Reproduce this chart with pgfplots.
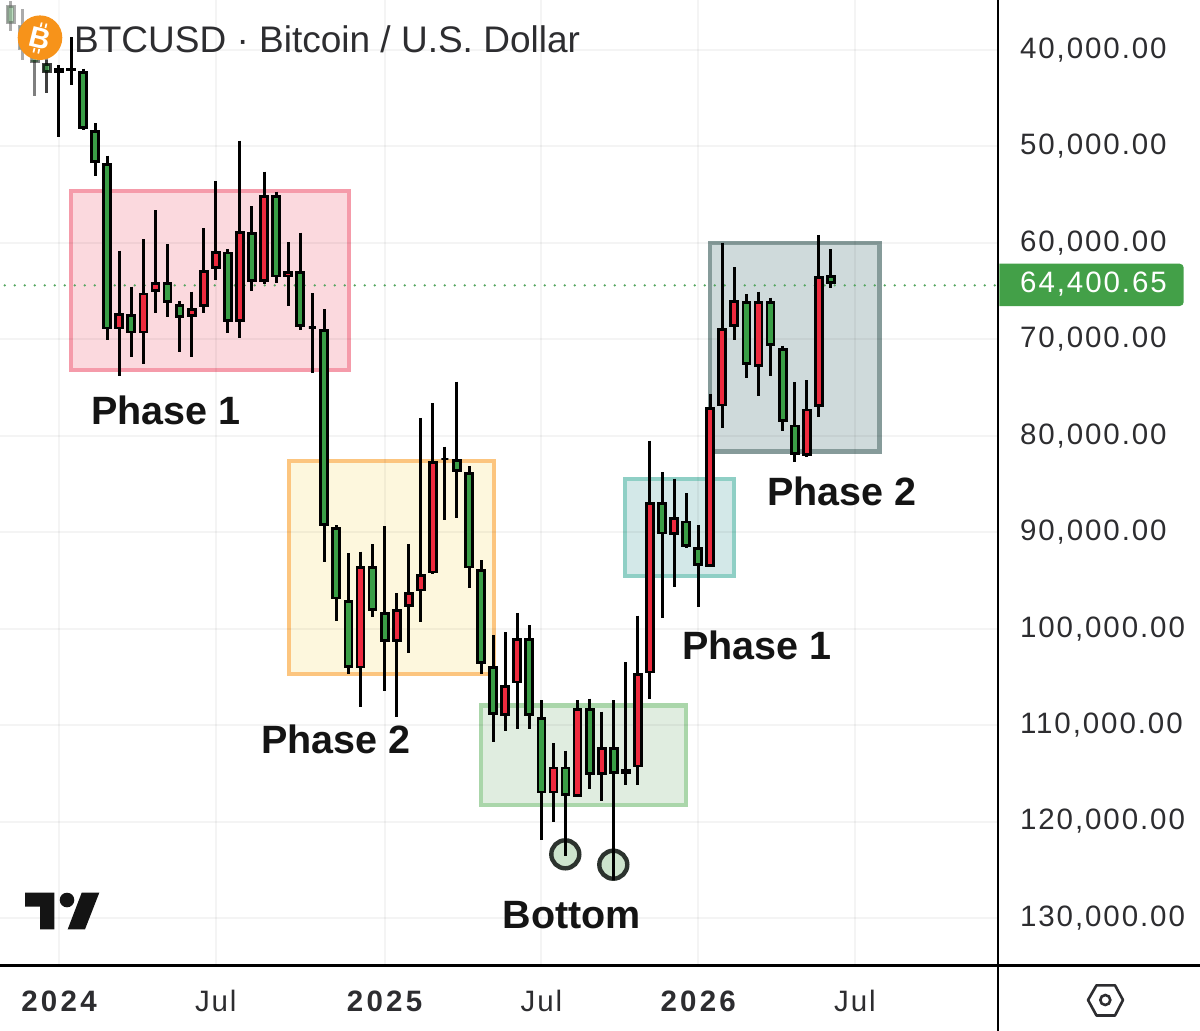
\documentclass[border=0pt]{standalone}
\usepackage{fontspec}
\usepackage{pgfplots}
\pgfplotsset{compat=1.18}
\setmainfont{Liberation Sans}
\newfontfamily\axf[LetterSpace=6.5]{Liberation Sans}
\newfontfamily\axfb[LetterSpace=11]{Liberation Sans}
\definecolor{cg}{RGB}{58,158,70}
\definecolor{cr}{RGB}{238,42,62}
\definecolor{lastg}{RGB}{67,160,72}
\definecolor{axtxt}{RGB}{45,45,48}
% k, wick end (lower price), body (lower price), body (higher price), wick end (higher price), colour
\newcommand\candle[7][1]{%
  \addplot[forget plot,opacity=#1,line width=3pt,black] coordinates {(#2,#3)(#2,#6)};
  \pgfmathsetmacro\xa{#2-0.29}\pgfmathsetmacro\xb{#2+0.29}%
  \edef\ya{\the\numexpr#4+145\relax}\edef\yb{\the\numexpr#5-145\relax}%
  \addplot[forget plot,opacity=#1,fill=#7,draw=black,line width=2.8pt,line join=miter]
    coordinates {(\xa,\ya)(\xb,\ya)(\xb,\yb)(\xa,\yb)} --cycle;
}
\begin{document}
\begin{tikzpicture}[x=1pt,y=-1pt]
\useasboundingbox (0,0) rectangle (1200,1031);
% phase boxes and bottom markers, beneath the candles
\draw[line width=4pt,draw={rgb,255:red,245;green,155;blue,170},fill={rgb,255:red,251;green,217;blue,222}] (71.3,191) rectangle (348.7,370);
\draw[line width=4pt,draw={rgb,255:red,252;green,197;blue,127},fill={rgb,255:red,253;green,247;blue,221}] (288.7,461) rectangle (493.7,674);
\draw[line width=4.5pt,draw={rgb,255:red,170;green,214;blue,170},fill={rgb,255:red,224;green,237;blue,224}] (481,705.5) rectangle (686,805);
\draw[line width=4pt,draw={rgb,255:red,143;green,207;blue,197},fill={rgb,255:red,211;green,232;blue,232}] (625.3,479) rectangle (734,576.3);
\draw[line width=4.5pt,draw={rgb,255:red,134;green,155;blue,154},fill={rgb,255:red,207;green,218;blue,219}] (710.2,243.2) rectangle (879.5,451.5);
\draw[line width=4.4pt,draw={rgb,255:red,44;green,51;blue,46},fill={rgb,255:red,205;green,228;blue,205}] (565.3,854.3) circle (14);
\draw[line width=4.4pt,draw={rgb,255:red,44;green,51;blue,46},fill={rgb,255:red,205;green,228;blue,205}] (613.3,864.7) circle (14);
\begin{axis}[
  at={(0,0)},anchor=north west,
  scale only axis,width=998pt,height=965pt,
  xmin=-4.892,xmax=77.861,
  ymin=34815,ymax=134876,y dir=reverse,
  scaled y ticks=false,
  axis line style={draw=none},
  tick style={draw=none},
  grid=major,
  grid style={black,opacity=0.045,line width=2pt},
  xtick={0,13,27,40,53,66},
  xticklabels={{\axfb\bfseries 2024},{\axf Jul},{\axfb\bfseries 2025},{\axf Jul},{\axfb\bfseries 2026},{\axf Jul}},
  x tick label style={anchor=center,yshift=-36pt,font=\fontsize{29.5}{30}\selectfont,text=axtxt},
  ytick={40000,50000,60000,70000,80000,90000,100000,110000,120000,130000},
  yticklabels={40{,}000.00,50{,}000.00,60{,}000.00,70{,}000.00,80{,}000.00,90{,}000.00,100{,}000.00,110{,}000.00,120{,}000.00,130{,}000.00},
  yticklabel pos=right,
  y tick label style={anchor=west,xshift=18.5pt,yshift=0pt,font=\axf\fontsize{29.5}{30}\selectfont,text=axtxt},
]
\addplot[forget plot,line width=2.6pt,line cap=round,dash pattern=on 0pt off 10pt,color={rgb,255:red,85;green,165;blue,95}] coordinates {(-4.5,64400.65)(77.861,64400.65)};
\candle[0.5]{-4}{34920}{35330}{37300}{38030}{cg}
\candle[0.5]{-3}{35750}{37410}{40000}{41040}{cg}
\candle[0.5]{-2}{39480}{40000}{41350}{44770}{cg}
\candle[0.75]{-1}{40520}{41350}{42390}{44460}{cg}
\candle{0}{41560}{41900}{42350}{49020}{cr}
\candle{1}{38650}{41860}{42160}{43630}{cr}
\candle{2}{41920}{42150}{48160}{48290}{cg}
\candle{3}{47570}{48290}{51690}{53030}{cg}
\candle{4}{50960}{51750}{68960}{70070}{cg}
\candle{5}{60810}{67300}{68960}{73770}{cr}
\candle{6}{64540}{67370}{69380}{71800}{cg}
\candle{7}{59630}{65160}{69380}{72560}{cr}
\candle{8}{56590}{64060}{65060}{67300}{cr}
\candle{9}{60150}{64060}{66200}{67650}{cg}
\candle{10}{66000}{66340}{67760}{71280}{cg}
\candle{11}{65060}{66720}{67690}{71860}{cr}
\candle{12}{58490}{62840}{66620}{67300}{cr}
\candle{13}{53580}{60810}{62710}{63850}{cr}
\candle{14}{60660}{60910}{68200}{69380}{cg}
\candle{15}{49400}{58770}{68170}{69890}{cr}
\candle{16}{56175}{58900}{64020}{64990}{cg}
\candle{17}{52620}{55070}{64020}{64290}{cr}
\candle{18}{54690}{55070}{63570}{64130}{cg}
\candle{19}{59940}{62910}{63570}{66510}{cr}
\candle{20}{58940}{62910}{68750}{69030}{cg}
\candle{21}{65230}{68630}{68920}{73460}{cg}
\candle{22}{66860}{68960}{89360}{93060}{cg}
\candle{23}{89280}{89490}{96960}{99210}{cg}
\candle{24}{92190}{97060}{104050}{104730}{cg}
\candle{25}{92020}{93500}{104110}{108090}{cr}
\candle{26}{91250}{93500}{98170}{98760}{cg}
\candle{27}{89360}{98300}{101350}{106430}{cg}
\candle{28}{96330}{97930}{101350}{109190}{cr}
\candle{29}{91220}{96200}{97760}{102560}{cr}
\candle{30}{78130}{94330}{96130}{99340}{cr}
\candle{31}{76630}{82620}{94260}{94330}{cr}
\candle{32}{81130}{82260}{82550}{88730}{cg}
\candle{33}{74390}{82440}{83730}{88560}{cg}
\candle{34}{83130}{83790}{93740}{95820}{cg}
\candle{35}{92880}{93815}{103670}{104670}{cg}
\candle{36}{100660}{103840}{108950}{111790}{cg}
\candle{37}{100380}{105810}{109030}{110580}{cr}
\candle{38}{98350}{101000}{105670}{110400}{cr}
\candle{39}{99620}{101000}{109060}{110440}{cg}
\candle{40}{107400}{109190}{117070}{121910}{cg}
\candle{41}{111890}{114310}{117070}{120020}{cr}
\candle{42}{112650}{114310}{117350}{123570}{cg}
\candle{43}{107400}{108200}{117420}{117460}{cr}
\candle{44}{107260}{108200}{115140}{116660}{cg}
\candle{45}{108610}{112240}{115140}{117840}{cr}
\candle{46}{107400}{112270}{115070}{126060}{cg}
\candle{47}{103490}{114520}{115070}{116210}{cr}
\candle{48}{98660}{104630}{114380}{116210}{cr}
\candle{49}{80510}{86870}{104630}{107290}{cr}
\candle{50}{83760}{86900}{90220}{98930}{cg}
\candle{51}{84450}{88450}{90260}{95650}{cr}
\candle{52}{85970}{88800}{91500}{91670}{cg}
\candle{53}{89250}{91570}{93500}{97790}{cg}
\candle{54}{75700}{77020}{93580}{93610}{cr}
\candle{55}{59980}{68860}{76950}{79230}{cr}
\candle{56}{62530}{65920}{68720}{70040}{cr}
\candle{57}{65330}{66030}{72660}{74040}{cg}
\candle{58}{65060}{66030}{72840}{75880}{cr}
\candle{59}{65680}{66030}{70690}{73770}{cg}
\candle{60}{70660}{70870}{78600}{79470}{cg}
\candle{61}{74460}{78850}{82000}{82750}{cg}
\candle{62}{74250}{77190}{82100}{82200}{cr}
\candle{63}{59180}{63430}{76990}{78020}{cr}
\candle{64}{60660}{63360}{64290}{64650}{cg}
\end{axis}
% frame
\draw[line width=2.6pt,black] (998,0) -- (998,1031);
\draw[line width=2.6pt,black] (0,965.7) -- (1200,965.7);
% last price
\fill[lastg] (999.3,263.7) [rounded corners=4pt] -- (1183.7,263.7) -- (1183.7,306) [sharp corners] -- (999.3,306) -- cycle;
\node[anchor=west,inner sep=0pt,text=white,font=\axf\fontsize{29.5}{30}\selectfont] at (1020,284) {64,400.65};
% title and logo
\node[anchor=west,inner sep=0pt,text=axtxt,font=\fontsize{37}{40}\selectfont] at (74,39) {BTCUSD · Bitcoin / U.S. Dollar};
\fill[white,opacity=0.35] (0,0) rectangle (62,60);
\fill[color={rgb,255:red,247;green,147;blue,26}] (40,37.7) circle (22.3);
\draw[white,line width=1.7pt] (40.6,27) -- (41.7,22.5) (45.4,28) -- (46.5,23.5) (34.5,48) -- (33.4,52.5) (39.3,49) -- (38.2,53.5);
\node[rotate=-14,text=white,inner sep=0pt,font=\bfseries\fontsize{29}{29}\selectfont] at (40,38) {B};
% phase labels
\begin{scope}[every node/.style={inner sep=0pt,text={rgb,255:red,20;green,20;blue,20},font=\bfseries\fontsize{39.5}{42}\selectfont}]
\node at (166,410) {Phase 1};
\node at (336,739) {Phase 2};
\node at (572,915) {Bottom};
\node at (757,645) {Phase 1};
\node at (842,491) {Phase 2};
\end{scope}
% TradingView mark
\fill[black!92] (25,892.7) -- (54.3,892.7) -- (54.3,929.3) -- (40,929.3) -- (40,906.7) -- (25,906.7) -- cycle;
\fill[black!92] (67,900) circle (7.3);
\fill[black!92] (81.7,892.7) -- (99.3,892.7) -- (85,929.3) -- (67.7,929.3) -- cycle;
% settings icon
\draw[line width=2.6pt,axtxt,line join=round] (1088,1000) -- (1096.5,985.3) -- (1115,985.3) -- (1123,1000) -- (1115,1015.5) -- (1096.5,1015.5) -- cycle;
\draw[line width=2.6pt,axtxt] (1105.3,1000) circle (5);
\end{tikzpicture}
\end{document}
